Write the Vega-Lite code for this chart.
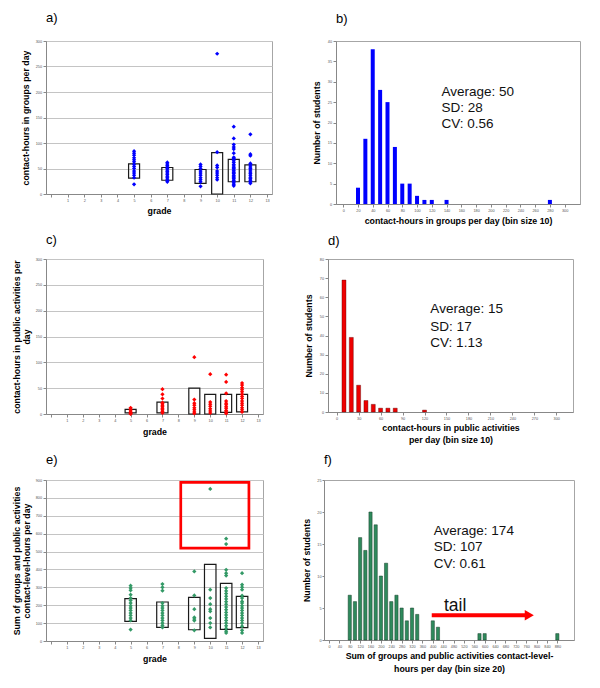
{
 "$schema": "https://vega.github.io/schema/vega-lite/v6.json",
 "padding": {"left": 11, "top": 11, "right": 4, "bottom": 4},
 "background": "white",
 "config": {
  "font": "Liberation Sans",
  "view": {"stroke": "#a6a6a6", "strokeWidth": 1},
  "axis": {"labelFontSize": 3.8, "labelColor": "#555", "tickColor": "#888", "tickSize": 3, "domainColor": "#888", "titleFontSize": 8.8, "titleFontWeight": "bold", "titleColor": "#000", "gridColor": "#c4c4c4", "labelPadding": 1.5, "labelFont": "Liberation Sans", "titleFont": "Liberation Sans", "labelOverlap": false, "labelFlush": false, "labelBound": false},
  "title": {"fontSize": 13, "fontWeight": "normal", "anchor": "start", "frame": "group", "color": "#000", "font": "Liberation Sans"}
 },
 "datasets": {
  "pa": [
   {"g":5,"v":84},{"g":5,"v":80},{"g":5,"v":76},{"g":5,"v":71},{"g":5,"v":67},{"g":5,"v":63},{"g":5,"v":58},{"g":5,"v":54},{"g":5,"v":50},{"g":5,"v":45},{"g":5,"v":41},{"g":5,"v":37},{"g":5,"v":32},{"g":5,"v":19},
   {"g":7,"v":62},{"g":7,"v":59},{"g":7,"v":56},{"g":7,"v":53},{"g":7,"v":50},{"g":7,"v":47},{"g":7,"v":44},{"g":7,"v":41},{"g":7,"v":38},{"g":7,"v":35},{"g":7,"v":32},{"g":7,"v":29},{"g":7,"v":26},{"g":7,"v":24},
   {"g":9,"v":58},{"g":9,"v":54},{"g":9,"v":50},{"g":9,"v":45},{"g":9,"v":41},{"g":9,"v":37},{"g":9,"v":32},{"g":9,"v":28},{"g":9,"v":24},{"g":9,"v":15},
   {"g":10,"v":275},{"g":10,"v":82},{"g":10,"v":56},{"g":10,"v":52},{"g":10,"v":45},{"g":10,"v":41},{"g":10,"v":37},{"g":10,"v":32},{"g":10,"v":28},
   {"g":11,"v":132},{"g":11,"v":109},{"g":11,"v":97},{"g":11,"v":92},{"g":11,"v":88},{"g":11,"v":80},{"g":11,"v":72},{"g":11,"v":70},{"g":11,"v":68},{"g":11,"v":65},{"g":11,"v":62},{"g":11,"v":58},{"g":11,"v":55},{"g":11,"v":52},{"g":11,"v":50},{"g":11,"v":47},{"g":11,"v":45},{"g":11,"v":42},{"g":11,"v":40},{"g":11,"v":37},{"g":11,"v":35},{"g":11,"v":32},{"g":11,"v":30},{"g":11,"v":27},{"g":11,"v":25},{"g":11,"v":22},{"g":11,"v":19},{"g":11,"v":16},
   {"g":12,"v":117},{"g":12,"v":78},{"g":12,"v":75},{"g":12,"v":60},{"g":12,"v":57},{"g":12,"v":53},{"g":12,"v":50},{"g":12,"v":47},{"g":12,"v":43},{"g":12,"v":40},{"g":12,"v":37},{"g":12,"v":33},{"g":12,"v":30},{"g":12,"v":27},{"g":12,"v":24},{"g":12,"v":21}
  ],
  "ba": [{"g":5,"v":31,"v2":59},{"g":7,"v":27,"v2":52},{"g":9,"v":21,"v2":48},{"g":10,"v":0,"v2":81},{"g":11,"v":24,"v2":68},{"g":12,"v":24,"v2":57}],
  "pc": [
   {"g":5,"v":12},{"g":5,"v":9},{"g":5,"v":6},{"g":5,"v":3},{"g":5,"v":1},{"g":5,"v":0},
   {"g":7,"v":48},{"g":7,"v":38},{"g":7,"v":30},{"g":7,"v":22},{"g":7,"v":20},{"g":7,"v":17},{"g":7,"v":14},{"g":7,"v":11},{"g":7,"v":8},{"g":7,"v":5},{"g":7,"v":2},
   {"g":9,"v":110},{"g":9,"v":28},{"g":9,"v":21},{"g":9,"v":17},{"g":9,"v":12},{"g":9,"v":8},{"g":9,"v":4},{"g":9,"v":1},
   {"g":10,"v":77},{"g":10,"v":23},{"g":10,"v":19},{"g":10,"v":15},{"g":10,"v":10},{"g":10,"v":6},{"g":10,"v":2},
   {"g":11,"v":76},{"g":11,"v":62},{"g":11,"v":40},{"g":11,"v":25},{"g":11,"v":21},{"g":11,"v":18},{"g":11,"v":14},{"g":11,"v":11},{"g":11,"v":7},{"g":11,"v":4},{"g":11,"v":1},
   {"g":12,"v":60},{"g":12,"v":56},{"g":12,"v":51},{"g":12,"v":47},{"g":12,"v":43},{"g":12,"v":38},{"g":12,"v":34},{"g":12,"v":30},{"g":12,"v":25},{"g":12,"v":21},{"g":12,"v":17},{"g":12,"v":12},{"g":12,"v":8},{"g":12,"v":4}
  ],
  "bc": [{"g":5,"v":2,"v2":9},{"g":7,"v":2,"v2":23},{"g":9,"v":0,"v2":50},{"g":10,"v":0,"v2":38},{"g":11,"v":3,"v2":38},{"g":12,"v":4,"v2":38}],
  "pe": [
   {"g":5,"v":309},{"g":5,"v":296},{"g":5,"v":283},{"g":5,"v":259},{"g":5,"v":240},{"g":5,"v":227},{"g":5,"v":212},{"g":5,"v":197},{"g":5,"v":184},{"g":5,"v":171},{"g":5,"v":156},{"g":5,"v":143},{"g":5,"v":128},{"g":5,"v":115},{"g":5,"v":64},
   {"g":7,"v":318},{"g":7,"v":300},{"g":7,"v":281},{"g":7,"v":212},{"g":7,"v":197},{"g":7,"v":184},{"g":7,"v":171},{"g":7,"v":156},{"g":7,"v":143},{"g":7,"v":128},{"g":7,"v":115},{"g":7,"v":100},{"g":7,"v":87},{"g":7,"v":76},
   {"g":9,"v":389},{"g":9,"v":255},{"g":9,"v":178},{"g":9,"v":132},{"g":9,"v":123},{"g":9,"v":114},{"g":9,"v":60},
   {"g":10,"v":850},{"g":10,"v":287},{"g":10,"v":240},{"g":10,"v":206},{"g":10,"v":178},{"g":10,"v":166},{"g":10,"v":128},{"g":10,"v":100},{"g":10,"v":76},
   {"g":11,"v":572},{"g":11,"v":542},{"g":11,"v":398},{"g":11,"v":379},{"g":11,"v":366},{"g":11,"v":296},{"g":11,"v":280},{"g":11,"v":265},{"g":11,"v":250},{"g":11,"v":235},{"g":11,"v":220},{"g":11,"v":205},{"g":11,"v":190},{"g":11,"v":175},{"g":11,"v":160},{"g":11,"v":145},{"g":11,"v":130},{"g":11,"v":115},{"g":11,"v":100},{"g":11,"v":85},{"g":11,"v":70},{"g":11,"v":55},{"g":11,"v":45},
   {"g":12,"v":379},{"g":12,"v":315},{"g":12,"v":301},{"g":12,"v":287},{"g":12,"v":253},{"g":12,"v":240},{"g":12,"v":221},{"g":12,"v":212},{"g":12,"v":197},{"g":12,"v":184},{"g":12,"v":171},{"g":12,"v":156},{"g":12,"v":143},{"g":12,"v":128},{"g":12,"v":115},{"g":12,"v":100},{"g":12,"v":82},{"g":12,"v":60},{"g":12,"v":45}
  ],
  "be": [{"g":5,"v":110,"v2":237},{"g":7,"v":76,"v2":218},{"g":9,"v":63,"v2":244},{"g":10,"v":15,"v2":428},{"g":11,"v":65,"v2":322},{"g":12,"v":75,"v2":250}],
  "re": [{"g":8.15,"g2":12.43,"v":519,"v2":887}],
  "hb": [{"b":20,"n":4},{"b":30,"n":16},{"b":40,"n":38},{"b":50,"n":28},{"b":60,"n":25},{"b":70,"n":14},{"b":80,"n":5},{"b":90,"n":5},{"b":100,"n":2},{"b":110,"n":1},{"b":120,"n":1},{"b":140,"n":1},{"b":280,"n":1}],
  "tb": [{"b":133,"n":27.5,"t":"Average: 50"},{"b":133,"n":23.6,"t":"SD: 28"},{"b":133,"n":19.6,"t":"CV: 0.56"}],
  "hd": [{"b":10,"n":69},{"b":20,"n":39},{"b":30,"n":14},{"b":40,"n":6},{"b":50,"n":4},{"b":60,"n":2},{"b":70,"n":2},{"b":80,"n":2},{"b":120,"n":1}],
  "td": [{"b":128,"n":53.6,"t":"Average: 15"},{"b":128,"n":44.7,"t":"SD: 17"},{"b":128,"n":36,"t":"CV: 1.13"}],
  "hf": [{"b":80,"n":7},{"b":100,"n":6},{"b":120,"n":16},{"b":140,"n":14},{"b":160,"n":20},{"b":180,"n":18},{"b":200,"n":10},{"b":220,"n":12},{"b":240,"n":6},{"b":260,"n":7},{"b":280,"n":5},{"b":300,"n":3},{"b":320,"n":5},{"b":340,"n":4},{"b":400,"n":3},{"b":420,"n":2},{"b":580,"n":1},{"b":600,"n":1},{"b":880,"n":1}],
  "tf": [{"b":404,"n":17.1,"t":"Average: 174"},{"b":404,"n":14.5,"t":"SD: 107"},{"b":404,"n":11.9,"t":"CV: 0.61"}],
  "tail": [{"b":443,"n":4.6,"t":"tail"}],
  "arrow": [{"b":396,"b2":762,"n":3.85}],
  "head": [{"b":772,"n":3.85}]
 },
 "spacing": 7,
 "vconcat": [
  {"spacing": 38, "hconcat": [
   {"width": 226, "height": 153, "title": {"text": "a)", "offset": 14},
    "encoding": {
     "x": {"field": "g", "type": "quantitative", "scale": {"domain": [0, 13], "nice": false}, "axis": {"title": "grade", "values": [0,1,2,3,4,5,6,7,8,9,10,11,12,13], "labelExpr": "datum.value == 0 ? '' : datum.label", "grid": false, "titlePadding": 4}},
     "y": {"field": "v", "type": "quantitative", "scale": {"domain": [0, 300], "nice": false}, "axis": {"title": "contact-hours in groups per day", "values": [0,50,100,150,200,250,300], "grid": true, "titlePadding": 4.9}}
    },
    "layer": [
     {"data": {"name": "ba"}, "mark": {"type": "bar", "size": 11, "fill": "transparent", "stroke": "#1a1a1a", "strokeWidth": 1.2}, "encoding": {"y2": {"field": "v2"}}},
     {"data": {"name": "pa"}, "mark": {"type": "point", "shape": "diamond", "filled": true, "size": 18, "color": "#0000ff", "opacity": 1}}
    ]
   },
   {"width": 244, "height": 163, "title": {"text": "b)", "offset": 13},
    "encoding": {
     "x": {"field": "b", "type": "quantitative", "scale": {"domain": [-3, 314], "nice": false, "zero": false}, "axis": {"title": "contact-hours in groups per day (bin size 10)", "values": [0,20,40,60,80,100,120,140,160,180,200,220,240,260,280,300], "grid": false, "titlePadding": 3.7}},
     "y": {"field": "n", "type": "quantitative", "scale": {"domain": [0, 40], "nice": false}, "axis": {"title": "Number of students", "values": [0,5,10,15,20,25,30,35,40], "grid": false, "titlePadding": 6}}
    },
    "layer": [
     {"data": {"name": "hb"}, "mark": {"type": "bar", "size": 4, "color": "#0000ff"}},
     {"data": {"name": "tb"}, "mark": {"type": "text", "align": "left", "baseline": "middle", "fontSize": 13.5, "color": "#111"}, "encoding": {"text": {"field": "t"}}}
    ]
   }
  ]},
  {"spacing": 39, "hconcat": [
   {"width": 217, "height": 155, "title": {"text": "c)", "offset": 10.5},
    "encoding": {
     "x": {"field": "g", "type": "quantitative", "scale": {"domain": [0, 13], "nice": false}, "axis": {"title": "grade", "values": [0,1,2,3,4,5,6,7,8,9,10,11,12,13], "labelExpr": "datum.value == 0 ? '' : datum.label", "grid": false, "titlePadding": 5}},
     "y": {"field": "v", "type": "quantitative", "scale": {"domain": [0, 300], "nice": false}, "axis": {"title": ["contact-hours in public activities per", "day"], "titleLineHeight": 10, "values": [0,50,100,150,200,250,300], "grid": true, "titlePadding": 3.4}}
    },
    "layer": [
     {"data": {"name": "bc"}, "mark": {"type": "bar", "size": 11, "fill": "transparent", "stroke": "#1a1a1a", "strokeWidth": 1.2}, "encoding": {"y2": {"field": "v2"}}},
     {"data": {"name": "pc"}, "mark": {"type": "point", "shape": "diamond", "filled": true, "size": 18, "color": "#ff0000", "opacity": 1}}
    ]
   },
   {"width": 245, "height": 153, "title": {"text": "d)", "offset": 9.5},
    "encoding": {
     "x": {"field": "b", "type": "quantitative", "scale": {"domain": [-5, 316], "nice": false, "zero": false}, "axis": {"title": ["contact-hours in public activities", "per day (bin size 10)"], "titleLineHeight": 12, "values": [0,30,60,90,120,150,180,210,240,270,300], "grid": false, "titlePadding": 3.5}},
     "y": {"field": "n", "type": "quantitative", "scale": {"domain": [0, 80], "nice": false}, "axis": {"title": "Number of students", "values": [0,10,20,30,40,50,60,70,80], "grid": false, "titlePadding": 6}}
    },
    "layer": [
     {"data": {"name": "hd"}, "mark": {"type": "bar", "size": 4, "color": "#ee0000", "stroke": "#550000", "strokeWidth": 0.4}},
     {"data": {"name": "td"}, "mark": {"type": "text", "align": "left", "baseline": "middle", "fontSize": 13.5, "color": "#111"}, "encoding": {"text": {"field": "t"}}}
    ]
   }
  ]},
  {"spacing": 38, "hconcat": [
   {"width": 217, "height": 161, "title": {"text": "e)", "offset": 11},
    "encoding": {
     "x": {"field": "g", "type": "quantitative", "scale": {"domain": [0, 13], "nice": false}, "axis": {"title": "grade", "values": [0,1,2,3,4,5,6,7,8,9,10,11,12,13], "labelExpr": "datum.value == 0 ? '' : datum.label", "grid": false, "titlePadding": 5}},
     "y": {"field": "v", "type": "quantitative", "scale": {"domain": [0, 900], "nice": false}, "axis": {"title": ["Sum of groups and public activities", "contact-level-hours per day"], "titleLineHeight": 10.5, "values": [0,100,200,300,400,500,600,700,800,900], "grid": true, "titlePadding": 3.4}}
    },
    "layer": [
     {"data": {"name": "be"}, "mark": {"type": "bar", "size": 11.5, "fill": "transparent", "stroke": "#1a1a1a", "strokeWidth": 1.2}, "encoding": {"y2": {"field": "v2"}}},
     {"data": {"name": "pe"}, "mark": {"type": "point", "shape": "diamond", "filled": true, "size": 18, "color": "#339966", "opacity": 1}},
     {"data": {"name": "re"}, "mark": {"type": "rect", "fill": "transparent", "stroke": "#ff0000", "strokeWidth": 2.7}, "encoding": {"x2": {"field": "g2"}, "y2": {"field": "v2"}}}
    ]
   },
   {"width": 250, "height": 160, "title": {"text": "f)", "offset": 11},
    "encoding": {
     "x": {"field": "b", "type": "quantitative", "scale": {"domain": [0, 925], "nice": false, "zero": false}, "axis": {"title": ["Sum of groups and public activities contact-level-", "hours per day (bin size 20)"], "titleLineHeight": 12.3, "values": [0,40,80,120,160,200,240,280,320,360,400,440,480,520,560,600,640,680,720,760,800,840,880], "grid": false, "titlePadding": 3.5}},
     "y": {"field": "n", "type": "quantitative", "scale": {"domain": [0, 25], "nice": false}, "axis": {"title": "Number of students", "values": [0,5,10,15,20,25], "grid": false, "titlePadding": 5, "tickSize": 2, "labelPadding": 1}}
    },
    "layer": [
     {"data": {"name": "hf"}, "mark": {"type": "bar", "size": 3.2, "color": "#2e8a5c", "stroke": "#163d28", "strokeWidth": 0.5}},
     {"data": {"name": "tf"}, "mark": {"type": "text", "align": "left", "baseline": "middle", "fontSize": 13.5, "color": "#111"}, "encoding": {"text": {"field": "t"}}},
     {"data": {"name": "arrow"}, "mark": {"type": "rule", "color": "#ff0000", "strokeWidth": 4}, "encoding": {"x2": {"field": "b2"}}},
     {"data": {"name": "head"}, "mark": {"type": "point", "shape": "triangle-right", "filled": true, "size": 110, "color": "#ff0000", "opacity": 1}},
     {"data": {"name": "tail"}, "mark": {"type": "text", "align": "left", "baseline": "alphabetic", "fontSize": 17.5, "color": "#111"}, "encoding": {"text": {"field": "t"}}}
    ]
   }
  ]}
 ]
}
